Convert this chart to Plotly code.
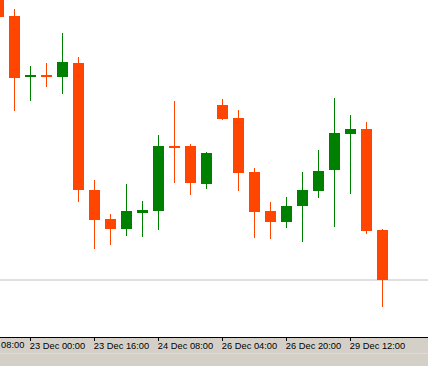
import plotly.graph_objects as go

# ---- data (4-hour candles; price units arbitrary, axis hidden in reference) ----
idx = list(range(-1, 25))
opens  = [1.3720, 1.3684, 1.3623, 1.3625, 1.3623, 1.3637, 1.3510, 1.3481, 1.3471, 1.3487, 1.3489, 1.3554, 1.3554, 1.3516,
          1.3595, 1.3582, 1.3528, 1.3489, 1.3478, 1.3494, 1.3509, 1.3530, 1.3566, 1.3571, 1.3470]
highs  = [1.3730, 1.3691, 1.3634, 1.3637, 1.3667, 1.3643, 1.3520, 1.3486, 1.3516, 1.3499, 1.3565, 1.3599, 1.3556, 1.3548,
          1.3601, 1.3590, 1.3532, 1.3498, 1.3503, 1.3528, 1.3550, 1.3602, 1.3585, 1.3578, 1.3471]
lows   = [1.3680, 1.3589, 1.3599, 1.3613, 1.3606, 1.3498, 1.3451, 1.3455, 1.3464, 1.3463, 1.3470, 1.3517, 1.3505, 1.3511,
          1.3580, 1.3509, 1.3462, 1.3461, 1.3472, 1.3458, 1.3502, 1.3473, 1.3506, 1.3466, 1.3393]
closes = [1.3683, 1.3622, 1.3625, 1.3623, 1.3638, 1.3510, 1.3480, 1.3471, 1.3489, 1.3490, 1.3554, 1.3552, 1.3517, 1.3547,
          1.3581, 1.3527, 1.3488, 1.3478, 1.3494, 1.3510, 1.3529, 1.3567, 1.3571, 1.3469, 1.3420]
idx = idx[:len(opens)]

tick_pos = [1, 5, 9, 13, 17, 21]
tick_text = ["23 Dec 00:00", "23 Dec 16:00", "24 Dec 08:00", "26 Dec 04:00", "26 Dec 20:00", "29 Dec 12:00"]
first_label_pos = -3
first_label = "22 Dec 08:00"

BULL = "#008000"
BEAR = "#FF4500"

colors = [BULL if c >= o else BEAR for o, c in zip(opens, closes)]
body_base = [min(o, c) for o, c in zip(opens, closes)]
body_h = [max(abs(c - o), 0.0002) for o, c in zip(opens, closes)]
wick_h = [h - l for h, l in zip(highs, lows)]

XR = [-0.90625, 25.84375]
ymax = 1.3700
ymin = ymax - 337 * 0.0001
PH = 337  # plot-area height in px

fig = go.Figure()
# wicks
fig.add_trace(go.Bar(x=idx, y=wick_h, base=lows, width=1 / 16, marker=dict(color=colors, line=dict(width=0)),
                     hoverinfo="skip", showlegend=False))
# bodies
fig.add_trace(go.Bar(x=idx, y=body_h, base=body_base, width=11 / 16, marker=dict(color=colors, line=dict(width=0)),
                     showlegend=False))

# current price line
fig.add_hline(y=closes[-1], line=dict(color="#c0c0c0", width=1), layer="below")

FONT = "Liberation Sans Narrow, Liberation Sans, Arial"
FS = 9.3

fig.update_layout(
    width=428, height=366,
    margin=dict(l=0, r=0, t=0, b=29, autoexpand=False),
    paper_bgcolor="#d4d0c8", plot_bgcolor="white",
    barmode="overlay", bargap=0,
    showlegend=False,
    font=dict(family=FONT, size=FS, color="black"),
    xaxis=dict(range=XR, showgrid=False, zeroline=False, automargin=False,
               showline=True, linecolor="black", linewidth=1,
               ticks="outside", ticklen=3, tickcolor="black", tickwidth=1,
               tickmode="array", tickvals=tick_pos, ticktext=tick_text, tickangle=0,
               ticklabelshift=27, ticklabelstandoff=-3, tickfont=dict(family=FONT, size=FS)),
    yaxis=dict(range=[ymin, ymax], showgrid=False, zeroline=False, showticklabels=False, showline=False,
               automargin=False),
    shapes=[
        dict(type="rect", xref="paper", yref="paper", x0=-0.01, x1=1.01, y0=-(356 - PH) / PH,
             y1=1.0, fillcolor="white", line=dict(width=0), layer="below"),
        dict(type="line", xref="paper", yref="paper", x0=-0.01, x1=1.01, y0=-(353.5 - PH) / PH,
             y1=-(353.5 - PH) / PH, line=dict(color="#dcdcdc", width=1), layer="below"),
    ],
    annotations=[dict(x=(first_label_pos - XR[0]) / (XR[1] - XR[0]), y=0, xref="paper", yref="paper", yshift=-1,
                      text=first_label, showarrow=False, xanchor="left", yanchor="top",
                      font=dict(family=FONT, size=FS, color="black"))],
)

fig.write_html("out.html")
